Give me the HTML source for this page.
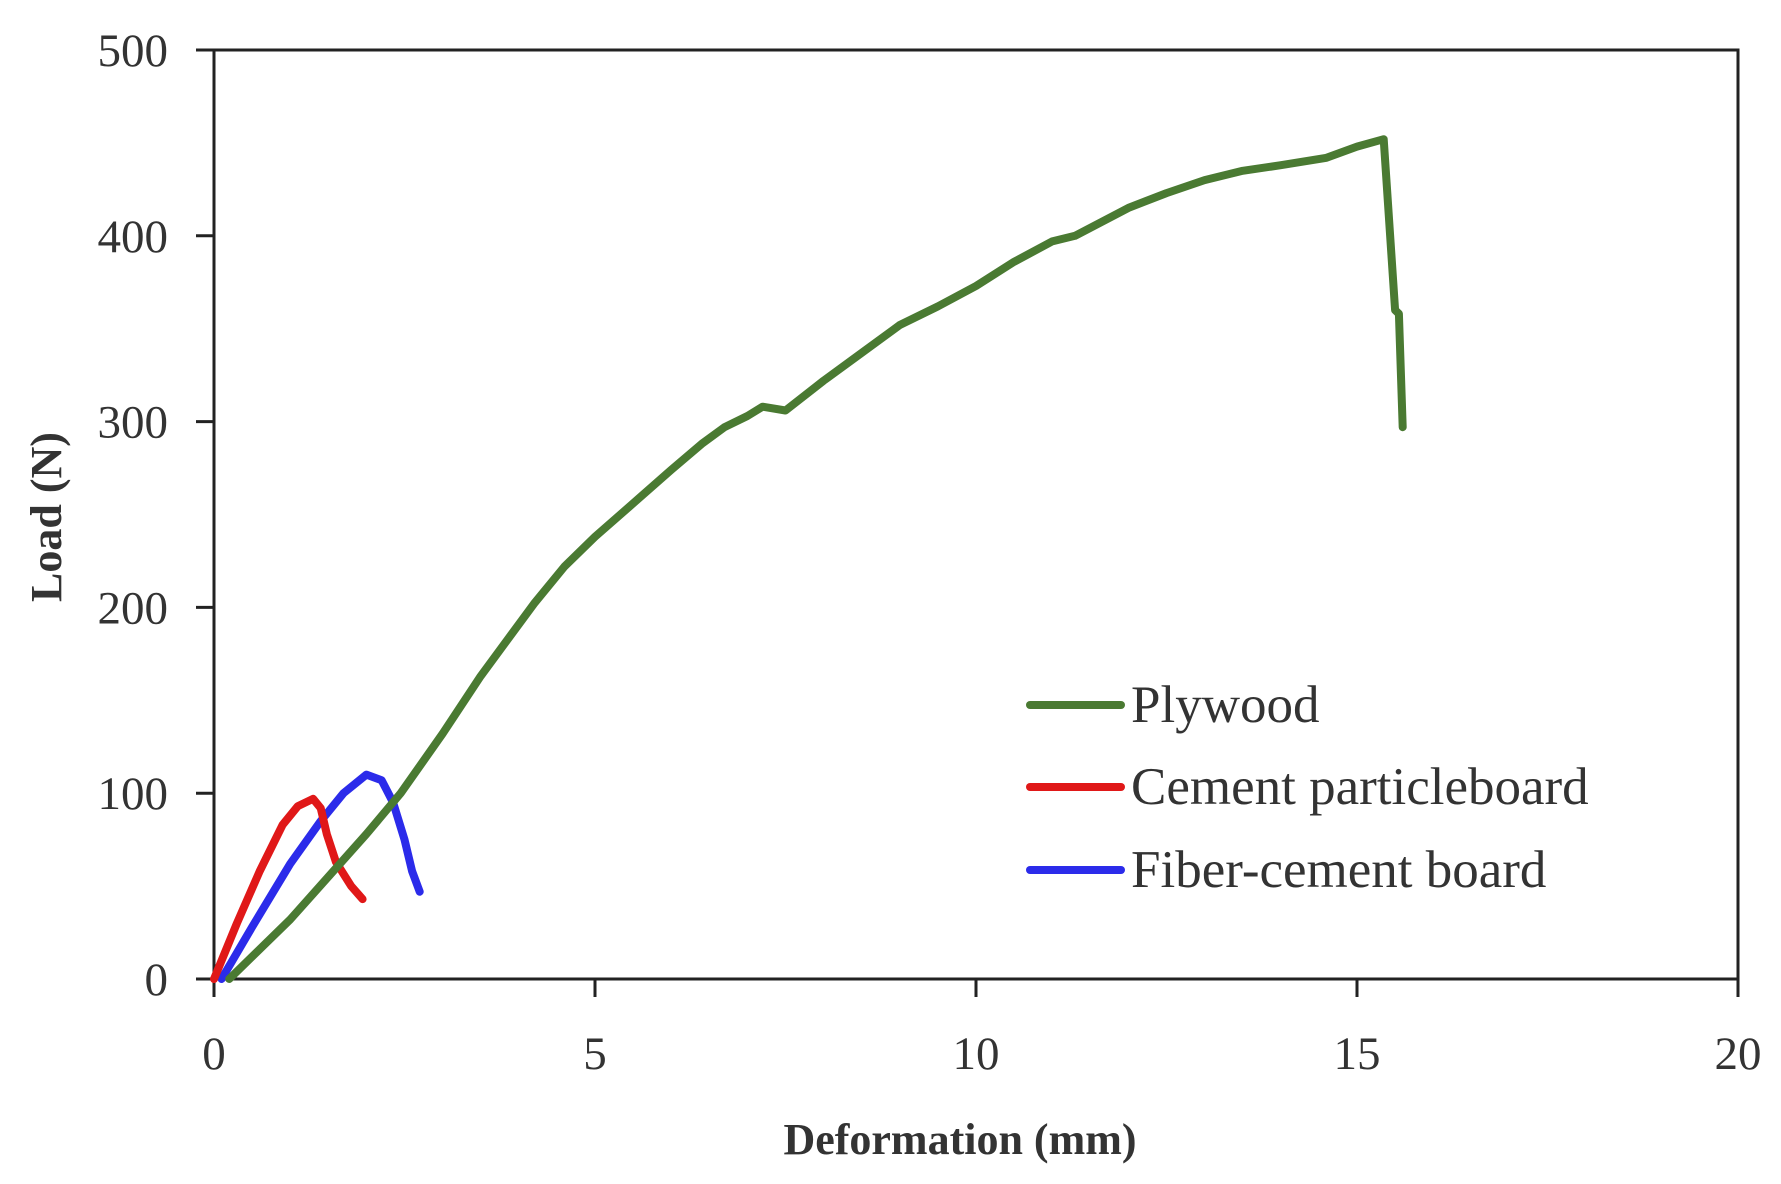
<!DOCTYPE html>
<html><head><meta charset="utf-8"><style>
html,body{margin:0;padding:0;background:#fff;}
svg{display:block;}
text{font-family:"Liberation Serif",serif;fill:#333;}
</style></head><body>
<svg id="chart" width="1781" height="1184">
<g id="plot"></g>
</svg>
<script>
const xTicks=[0,5,10,15,20];
const yTicks=[0,100,200,300,400,500];
const plywoodX=[0.2,1,2,2.45,3,3.5,4.2,4.6,5,5.5,6,6.4,6.7,7.0,7.2,7.5,8,8.5,9,9.5,10,10.5,11,11.3,12,12.5,13,13.5,14,14.6,15.0,15.35,15.5,15.55,15.6];
const plywoodY=[0,32,78,100,132,163,202,222,238,256,274,288,297,303,308,306,322,337,352,362,373,386,397,400,415,423,430,435,438,442,448,452,360,358,297];
const cementX=[0,0.3,0.6,0.9,1.1,1.3,1.4,1.48,1.6,1.8,1.95];
const cementY=[0,30,58,83,93,97,92,78,63,50,43];
const fiberX=[0.1,0.5,1,1.4,1.7,2,2.2,2.35,2.5,2.6,2.7];
const fiberY=[0,28,62,85,100,110,107,95,75,58,47];
const seriesNames=["Plywood","Cement particleboard","Fiber-cement board"];
const seriesColors=["#4a7a32","#e01818","#2b2bea"];

const X0=214,X1=1738,Y0=979,Y1=50;
const sx=v=>X0+(v-0)/(20-0)*(X1-X0);
const sy=v=>Y0-(v-0)/(500-0)*(Y0-Y1);
const NS="http://www.w3.org/2000/svg";
const g=document.getElementById('plot');
function mk(tag,attrs,parent){const e=document.createElementNS(NS,tag);for(const k in attrs)e.setAttribute(k,attrs[k]);(parent||g).appendChild(e);return e;}

const frame=mk('rect',{x:X0,y:Y1,width:X1-X0,height:Y0-Y1,fill:'none',stroke:'#222','stroke-width':3});



yTicks.forEach(t=>{
  const y=sy(t);
  const l=mk('line',{x1:X0-18,x2:X0,y1:y,y2:y,stroke:'#222','stroke-width':3});
  
  
  const tx=mk('text',{x:X0-46,y:y+16,'text-anchor':'end','font-size':47});
  tx.textContent=t;
  
  
});
xTicks.forEach(t=>{
  const x=sx(t);
  const l=mk('line',{x1:x,x2:x,y1:Y0,y2:Y0+18,stroke:'#222','stroke-width':3});
  
  
  const tx=mk('text',{x:x,y:Y0+90,'text-anchor':'middle','font-size':47});
  tx.textContent=t;
  
  
});

const xt=mk('text',{x:960,y:1154,'text-anchor':'middle','font-size':44,'font-weight':'bold'});
xt.textContent='Deformation (mm)';


const yt=mk('text',{x:0,y:0,'text-anchor':'middle','font-size':44,'font-weight':'bold',transform:'translate(61,517) rotate(-90)'});
yt.textContent='Load (N)';



const series=[[plywoodX,plywoodY],[cementX,cementY],[fiberX,fiberY]];
const lineNames=['plywood-line','cement-particleboard-line','fiber-cement-board-line'];
[2,1,0].forEach(i=>{
  const [xs,ys]=series[i];
  const d=xs.map((v,j)=>(j?'L':'M')+sx(v).toFixed(1)+','+sy(ys[j]).toFixed(1)).join(' ');
  const p=mk('path',{d:d,fill:'none',stroke:seriesColors[i],'stroke-width':8,'stroke-linejoin':'round','stroke-linecap':'round'});
  
  
});

const legY=[705,787,870];
seriesNames.forEach((n,i)=>{
  const l=mk('line',{x1:1030,x2:1121,y1:legY[i],y2:legY[i],stroke:seriesColors[i],'stroke-width':8,'stroke-linecap':'round'});
  
  
  const t=mk('text',{x:1131,y:legY[i]+17,'font-size':53});
  t.textContent=n;
  
  
});
</script>
</body></html>
